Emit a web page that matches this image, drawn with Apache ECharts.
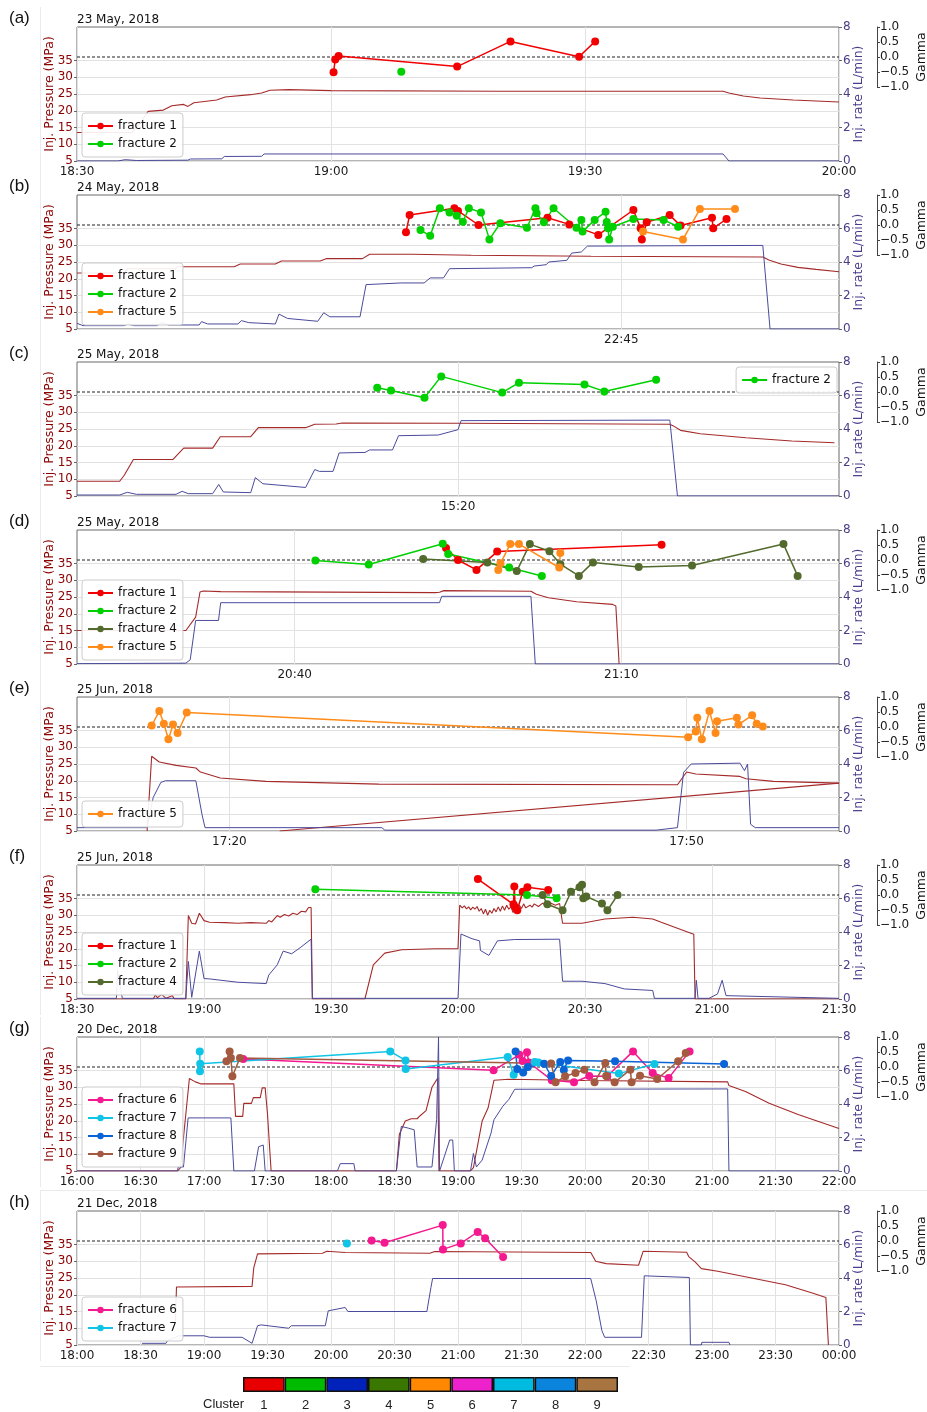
<!DOCTYPE html>
<html>
<head>
<meta charset="utf-8">
<script src="https://cdn.jsdelivr.net/npm/echarts@6/dist/echarts.min.js"></script>
<style>
  html, body { margin: 0; padding: 0; background: #fff; }
  #chart { width: 927px; height: 1412px; }
</style>
</head>
<body>
<div id="chart"></div>
<script>
// ---------- data: times as "HH:MM(.m)", pressure in MPa, rate in L/min, gamma unitless ----------

// (a) 23 May 2018
const aTicks = ['18:30', '19:00', '19:30', '20:00'];
const aPressure = [['18:30',13.5],['18:36.5',13.5],['18:37.5',16.5],['18:38.4',19.8],['18:40.2',20.2],['18:41.2',21.5],['18:42.6',21.9],['18:43.1',21.3],['18:43.8',22.4],['18:46.5',23.2],['18:47.5',24.1],['18:50.5',24.8],['18:51.8',25.3],['18:52.8',26.1],['18:55',26.3],['19:00',26.0],['19:20',25.8],['19:46.3',25.8],['19:47',25.3],['19:48.7',24.4],['19:50.7',23.8],['19:54.6',23.2],['20:00',22.6]];
const aRate = [['18:30',0],['18:34.8',0],['18:35.7',0.08],['18:37',0.03],['18:43.1',0.05],['18:43.4',0.12],['18:47.1',0.13],['18:47.4',0.27],['18:51.8',0.28],['18:52.1',0.42],['19:46.3',0.42],['19:47',0],['20:00',0]];
const aFrac1 = [['19:00.3',-0.51],['19:00.5',-0.08],['19:00.9',0.03],['19:14.9',-0.32],['19:21.2',0.52],['19:29.3',0.01],['19:31.2',0.52]];
const aFrac2 = [['19:08.3',-0.49]];

// (b) 24 May 2018
const bTicks = ['22:45'];
const bPressure = [['22:00',21.7],['22:03.9',21.7],['22:04.2',23.0],['22:08.1',23.0],['22:08.3',23.6],['22:13',23.6],['22:13.5',24.4],['22:16.4',24.4],['22:16.9',25.3],['22:20.1',25.3],['22:20.6',26.0],['22:23.6',26.0],['22:24.2',27.3],['22:27.7',27.3],['22:32.6',27.0],['22:42.5',26.7],['22:56.7',26.5],['22:57.2',25.6],['22:58.2',24.4],['22:59.6',23.4],['23:01.1',22.8],['23:03',22.1]];
const bRate = [['22:00',0.34],['22:00.5',0.2],['22:03.9',0.2],['22:04.2',0.3],['22:04.7',0.2],['22:06.6',0.2],['22:07',0.38],['22:07.6',0.24],['22:10.1',0.24],['22:10.3',0.44],['22:10.8',0.3],['22:13.3',0.3],['22:13.6',0.5],['22:14.2',0.38],['22:16.4',0.3],['22:16.7',0.89],['22:17.4',0.63],['22:19.9',0.46],['22:20.4',0.97],['22:20.9',0.73],['22:23.4',0.73],['22:23.9',2.65],['22:26.8',2.75],['22:28.7',2.75],['22:29.2',3.05],['22:30.3',3.05],['22:30.8',3.6],['22:37.6',3.66],['22:37.8',3.76],['22:38.8',3.84],['22:39',4.0],['22:40.5',4.1],['22:40.9',4.53],['22:41.7',4.6],['22:42.2',4.95],['22:56.7',4.99],['22:57.3',0],['23:03',0]];
const bFrac1 = [['22:27.2',-0.24],['22:27.5',0.33],['22:31.2',0.56],['22:31.5',0.47],['22:33.2',0.0],['22:38.9',0.24],['22:40.7',0.02],['22:43.1',-0.33],['22:46',0.5],['22:46.6',-0.11],['22:46.7',-0.48],['22:47.1',0.09],['22:49',0.33],['22:49.9',-0.02],['22:52.5',0.24],['22:52.6',-0.11],['22:53.7',0.2]];
const bFrac2 = [['22:28.4',-0.17],['22:29.2',-0.36],['22:30',0.56],['22:30.8',0.42],['22:31.4',0.31],['22:31.9',0.11],['22:32.4',0.56],['22:33.4',0.42],['22:34.1',-0.48],['22:35',0.06],['22:37.2',-0.09],['22:37.9',0.56],['22:38',0.39],['22:38.6',0.09],['22:39.4',0.56],['22:41.3',-0.09],['22:41.7',0.17],['22:41.8',-0.22],['22:42.8',0.17],['22:43.7',0.44],['22:43.8',0.1],['22:43.9',-0.11],['22:44',-0.48],['22:44.3',-0.06],['22:46',0.2],['22:48.5',0.17],['22:49.7',-0.06]];
const bFrac5 = [['22:46.8',-0.22],['22:50.1',-0.48],['22:51.5',0.53],['22:54.4',0.53]];

// (c) 25 May 2018
const cTicks = ['15:20'];
const cPressure = [['14:55',9.4],['14:57.8',9.4],['14:58.1',11.2],['14:58.7',15.9],['15:01.3',15.9],['15:02',19.3],['15:03.9',19.3],['15:04.4',22.7],['15:06.4',22.7],['15:06.9',25.4],['15:10',25.4],['15:10.6',26.4],['15:12',26.5],['15:12.4',26.8],['15:20',26.7],['15:33.9',26.4],['15:34.1',26.0],['15:34.6',24.6],['15:35.9',23.6],['15:38.9',22.4],['15:41.9',21.4],['15:44.7',20.9]];
const cRate = [['14:55',0.06],['14:57.8',0.06],['14:58.3',0.22],['14:58.9',0.1],['15:01.5',0.1],['15:01.9',0.28],['15:02.3',0.14],['15:03.9',0.14],['15:04.3',0.69],['15:04.6',0.24],['15:06.4',0.2],['15:06.7',1.1],['15:07.2',0.73],['15:10',0.51],['15:10.6',1.58],['15:10.9',1.47],['15:11.8',1.47],['15:12.2',2.57],['15:13.9',2.6],['15:14.2',2.75],['15:15.7',2.75],['15:16.1',3.6],['15:18.7',3.64],['15:20',3.96],['15:20.2',4.5],['15:33.9',4.53],['15:34.4',0],['15:45',0]];
const cFrac2 = [['15:14.7',0.14],['15:15.6',0.05],['15:17.8',-0.19],['15:18.9',0.52],['15:22.9',-0.02],['15:24',0.31],['15:28.3',0.25],['15:29.6',0.02],['15:33',0.41]];

// (d) 25 May 2018
const dTicks = ['20:40', '21:10'];
const dPressure = [['20:20',15.0],['20:30',15.0],['20:30.9',19],['20:31.3',26.5],['20:31.6',26.8],['20:33.2',26.6],['20:52.9',26.3],['20:53.3',26.4],['20:53.7',26.9],['21:01.7',26.7],['21:02.2',25.8],['21:03.3',24.8],['21:05.9',23.6],['21:09.2',22.8],['21:09.5',22.3],['21:09.8',5]];
const dRate = [['20:20',0.02],['20:30',0.05],['20:30.4',0.25],['20:30.9',2.6],['20:33',2.6],['20:33.2',3.66],['20:53.3',3.66],['20:53.5',4.04],['21:01.7',4.04],['21:02.1',0],['21:30',0]];
const dFrac1 = [['20:53.9',0.4],['20:55',0.0],['20:56.7',-0.33],['20:58.6',0.28],['21:13.7',0.51]];
const dFrac2 = [['20:41.9',-0.02],['20:46.8',-0.15],['20:53.6',0.54],['20:54.1',0.2],['20:59.7',-0.25],['21:02.7',-0.53]];
const dFrac4 = [['20:51.8',0.03],['20:57.7',-0.08],['21:00.4',-0.37],['21:01.6',0.53],['21:03.4',0.29],['21:04.4',-0.14],['21:06.1',-0.53],['21:07.4',-0.08],['21:11.6',-0.23],['21:16.5',-0.18],['21:24.9',0.53],['21:26.2',-0.53]];
const dFrac5 = [['20:58.7',-0.33],['20:58.9',-0.11],['20:59.8',0.53],['21:00.6',0.53],['21:04.3',-0.25],['21:04.4',0.23]];

// (e) 25 Jun 2018
const eTicks = ['17:20', '17:50'];
const ePressure = [['17:14.6',5],['17:14.9',27.3],['17:15.4',25.6],['17:16.5',24.6],['17:17.8',23.8],['17:18.1',22.6],['17:19.4',20.8],['17:22.4',19.8],['17:29.8',19.0],['17:49.4',18.8],['17:50',22.6],['17:50.6',22.0],['17:53.5',21.3],['17:53.9',20.6],['17:55.7',19.8],['18:00',19.3]];
const ePressureRamp = [['17:23.3',5],['18:00',19.3]];
const eRate = [['17:10',0.2],['17:14.6',0.2],['17:15',2.0],['17:15.5',2.9],['17:15.8',3.0],['17:17.8',3.0],['17:18.2',1.0],['17:18.4',0.2],['17:30',0.2],['17:30.2',0.05],['17:48',0.05],['17:49.4',0.2],['17:49.8',3.5],['17:50.3',4.0],['17:53.5',4.05],['17:53.8',3.6],['17:54',4.0],['17:54.2',0.4],['17:54.5',0.2],['18:00',0.2]];
const eFrac5 = [['17:14.9',0.05],['17:15.4',0.53],['17:15.7',0.11],['17:16',-0.41],['17:16.3',0.08],['17:16.6',-0.2],['17:17.2',0.48],['17:50.1',-0.34],['17:50.6',-0.15],['17:50.7',0.31],['17:51',-0.41],['17:51.5',0.53],['17:51.9',-0.2],['17:52',0.19],['17:53.3',0.31],['17:53.4',0.08],['17:54.3',0.39],['17:54.6',0.11],['17:55',0.02]];

// (f) 25 Jun 2018
const fTicks = ['18:30', '19:00', '19:30', '20:00', '20:30', '21:00', '21:30'];
const fPressure = [['18:30',5],['18:48',5],['18:48.5',6.2],['18:49',5.4],['18:50',6.4],['18:51',5.2],['18:52.5',6.0],['18:53',5],['18:55.7',5],['18:56.3',29.9],['18:57.1',27.6],['18:58',27.4],['18:58.9',30.6],['19:00',28.4],['19:01.3',27.9],['19:05',27.8],['19:08',27.6],['19:11',27.8],['19:14.7',27.6],['19:15.3',28.4],['19:16',28.0],['19:17.3',29.9],['19:18',29.4],['19:19',30.2],['19:20',29.8],['19:21',30.6],['19:22',30.2],['19:23',31.2],['19:24',31.0],['19:24.7',32.3],['19:25.3',32.3],['19:25.6',5],['19:38',5],['19:40',15.2],['19:42.7',18.7],['19:46.7',19.7],['19:54.7',20.0],['20:00',20.0],['20:00.4',33.0],['20:01',32.2],['20:01.5',32.8],['20:02',31.9],['20:02.5',32.5],['20:03',31.6],['20:03.5',32.4],['20:04',31.8],['20:04.5',32.6],['20:05',31.2],['20:05.5',32.0],['20:06',30.4],['20:06.5',31.8],['20:07',30.0],['20:07.5',31.5],['20:08',30.6],['20:08.5',32.0],['20:09',31.0],['20:09.5',32.5],['20:10',31.2],['20:10.5',32.8],['20:11',31.5],['20:11.5',33.0],['20:12',31.8],['20:12.5',32.6],['20:13',30.8],['20:13.5',33.2],['20:14',31.6],['20:14.5',33.0],['20:15',32.0],['20:15.5',33.4],['20:16',32.2],['20:17',33.0],['20:17.5',32.4],['20:18',33.4],['20:19',32.6],['20:20',33.6],['20:21',32.8],['20:22',33.6],['20:23',33.0],['20:24',33.5],['20:24.7',27.6],['20:29.3',27.6],['20:34.7',28.9],['20:41.3',29.4],['20:46',28.9],['20:48',27.9],['20:54.7',24.8],['20:55.7',24.3],['20:56',5],['21:30',5]];
const fRate = [['18:30',0.04],['18:39.3',0.04],['18:39.6',1.7],['18:40.7',0.04],['18:55.7',0.04],['18:56.3',2.24],['18:57.1',0.1],['18:58.9',2.86],['19:00',1.22],['19:01.3',1.2],['19:08',1.0],['19:14.7',0.92],['19:15.3',1.43],['19:17.3',2.04],['19:18.7',2.86],['19:20.7',2.7],['19:22.7',3.06],['19:25.3',3.57],['19:25.6',0.04],['20:00',0.04],['20:00.7',3.88],['20:03.3',3.6],['20:05.1',3.47],['20:05.3',2.9],['20:07.3',2.6],['20:09.3',3.47],['20:13.3',3.55],['20:24',3.57],['20:24.7',1.06],['20:29.3',1.06],['20:34.7',0.92],['20:39.3',0.6],['20:46',0.51],['20:46.4',0.04],['20:56',0.04],['20:56.3',1.12],['20:56.7',0.04],['20:59.3',0.04],['21:01.3',0.3],['21:02.4',1.12],['21:03.3',0.2],['21:30',0.04]];
const fFrac1 = [['20:04.7',0.53],['20:13.1',-0.31],['20:13.3',0.28],['20:13.5',-0.4],['20:14',-0.51],['20:15.3',0.11],['20:16.4',0.26],['20:21.3',0.17]];
const fFrac2 = [['19:26.3',0.19],['20:16.3',0.0],['20:23.3',-0.11]];
const fFrac4 = [['20:20',0.0],['20:21.1',-0.31],['20:24.7',-0.51],['20:26.7',0.11],['20:28.7',0.26],['20:29.3',0.34],['20:29.6',-0.11],['20:30.3',-0.05],['20:34',-0.28],['20:35.3',-0.51],['20:37.7',0.0]];

// (g) 20 Dec 2018
const gTicks = ['16:00','16:30','17:00','17:30','18:00','18:30','19:00','19:30','20:00','20:30','21:00','21:30','22:00'];
const gPressure = [['16:00',5],['16:47.5',5],['16:48.9',6],['16:51.7',23.8],['16:53.1',32.6],['16:55.9',31.6],['16:58.7',31.0],['17:14.1',31.0],['17:14.9',21.3],['17:18.3',21.3],['17:18.8',25.2],['17:22.4',25.2],['17:23.3',26.9],['17:26.6',26.9],['17:27.5',29.8],['17:28.9',29.8],['17:30',22],['17:31.7',5],['18:30.9',5],['18:32.3',16],['18:35.1',19.9],['18:37.9',20.6],['18:40.7',20.6],['18:42.1',21.5],['18:44.9',23],['18:47.7',30],['18:50.5',32.8],['18:51',5],['19:05.9',5],['19:07.3',6],['19:11.4',19.9],['19:14.2',23.8],['19:17',32.1],['19:24',32.4],['20:00',32.0],['21:07.4',31.6],['21:08',30.5],['21:15.8',28.7],['21:27',25.2],['21:41',21.8],['22:00',17.7]];
const gRate = [['16:00',0],['16:47.5',0],['16:47.8',0.24],['16:50.3',0.24],['16:52.5',3.17],['17:12.7',3.17],['17:14.1',0],['17:23.8',0],['17:25.8',1.45],['17:28',1.55],['17:28.9',0],['18:03',0],['18:04.4',0.44],['18:10.8',0.44],['18:11.4',0],['18:30.9',0],['18:33.2',2.66],['18:36.5',2.56],['18:39.3',2.46],['18:40.7',0.24],['18:47.7',0.24],['18:49.9',3.06],['18:50.8',8],['18:51.3',0],['18:56.1',1.85],['18:57.5',1.85],['18:58.3',0],['19:05.9',0],['19:07.3',1.05],['19:08.7',0.24],['19:11.4',0.65],['19:15.6',2.26],['19:17',3.06],['19:21.2',3.87],['19:24',4.27],['19:26.8',4.88],['21:07.4',4.9],['21:08',0],['22:00',0]];
const gFrac6 = [['17:18.5',0.27],['19:16.8',-0.11],['19:29',0.41],['19:30.5',0.2],['19:32.6',0.49],['19:33.5',0.15],['19:44.3',-0.44],['19:54.8',-0.51],['20:02',-0.3],['20:10.5',-0.31],['20:22.7',0.52],['20:32',-0.2],['20:39.5',-0.37],['20:49.4',0.52]];
const gFrac7 = [['16:58',0.52],['16:58.1',-0.14],['16:58.2',0.11],['18:28',0.52],['18:35.2',0.22],['18:35.3',-0.07],['19:23.5',0.33],['19:26.3',-0.26],['19:36.2',0.17],['19:38',0.15],['20:16',-0.22],['20:32.8',0.1]];
const gFrac8 = [['19:27.2',0.52],['19:28',-0.07],['19:30.8',-0.18],['19:33',0.0],['19:40.7',0.11],['19:44',-0.3],['19:48.3',0.17],['19:50',-0.1],['19:52',0.22],['20:14.2',0.19],['21:05.7',0.1]];
const gFrac9 = [['17:10.6',0.19],['17:12.1',0.52],['17:12.7',0.3],['17:13.4',-0.31],['17:17',0.3],['19:44',0.12],['19:46.1',-0.51],['19:50.6',-0.31],['19:55.5',-0.2],['19:59.7',-0.09],['20:04.5',-0.51],['20:09.6',0.13],['20:10',-0.3],['20:14',-0.51],['20:21.4',-0.09],['20:22',-0.51],['20:26',-0.29],['20:34.1',-0.4],['20:44',0.19],['20:47.6',0.47]];

// (h) 21 Dec 2018
const hTicks = ['18:00','18:30','19:00','19:30','20:00','20:30','21:00','21:30','22:00','22:30','23:00','23:30','00:00'];
const hPressure = [['18:46.5',12],['18:47',22.3],['19:22.7',22.5],['19:23.5',28],['19:25.3',32.2],['19:56',32.4],['19:58',33.0],['20:06.7',32.6],['20:46.7',32.4],['20:49',32.9],['22:02.7',32.6],['22:04',31.2],['22:05',30.0],['22:10',29.3],['22:25.3',28.8],['22:27.5',33.0],['22:48',32.7],['22:49',31.4],['22:52',29.8],['22:55',27.8],['23:02.7',27.0],['23:18.7',25.0],['23:34.7',23.0],['23:47',20.6],['23:53.8',19.2],['23:55',5]];
const hRate = [['18:30.7',0.1],['18:42',0.1],['18:43',0.3],['18:46.7',0.46],['18:48',0.55],['19:00',0.55],['19:02.7',0.46],['19:18',0.46],['19:22.7',0.1],['19:25.3',1.15],['19:27',1.2],['19:40',1.0],['19:41.3',1.15],['19:57.3',1.15],['19:58.7',2.04],['20:06.7',2.24],['20:08',2.0],['20:45.3',2.0],['20:47.2',3.43],['20:48',3.97],['22:02.7',3.97],['22:05.3',2.64],['22:08',0.85],['22:09.3',0.46],['22:26.7',0.46],['22:28',4.13],['22:49.3',4.03],['22:49.8',0],['22:55',0],['22:55.2',0.16],['23:08',0.16],['23:08.5',0]];
const hFrac6 = [['20:19.2',0.02],['20:25.3',-0.06],['20:52.8',0.53],['20:52.9',-0.28],['21:01.3',-0.08],['21:09.3',0.3],['21:12.8',0.09],['21:21.3',-0.53]];
const hFrac7 = [['20:07.5',-0.08]];

// shared axis ticks
const pressureTicks = [5, 10, 15, 20, 25, 30, 35];
const rateTicks = [0, 2, 4, 6, 8];
const gammaTicks = [-1, -0.5, 0, 0.5, 1];

// colour for each fracture cluster
const clusterIds = ['1', '2', '3', '4', '5', '6', '7', '8', '9'];
const clusterColors = ['#e80000', '#00bb00', '#0022bb', '#3a7700', '#ff8800', '#ee22cc', '#00bbe0', '#0a84dd', '#a87440'];
const fractureColors = {
  'fracture 1': '#f20000', 'fracture 2': '#00d000', 'fracture 4': '#526b2d', 'fracture 5': '#ff8c1a',
  'fracture 6': '#f5198f', 'fracture 7': '#10c4e6', 'fracture 8': '#0a64d6', 'fracture 9': '#a35a40'
};

// ---------- layout ----------
const panels = [
  { letter: '(a)', date: '23 May, 2018', range: ['18:30', '20:00'], ticks: aTicks, pressure: [aPressure], rate: aRate, fr: [['fracture 1', aFrac1], ['fracture 2', aFrac2]] },
  { letter: '(b)', date: '24 May, 2018', range: ['22:00', '23:03'], ticks: bTicks, pressure: [bPressure], rate: bRate, fr: [['fracture 1', bFrac1], ['fracture 2', bFrac2], ['fracture 5', bFrac5]] },
  { letter: '(c)', date: '25 May, 2018', range: ['14:55', '15:45'], ticks: cTicks, pressure: [cPressure], rate: cRate, fr: [['fracture 2', cFrac2]], legendTopRight: true },
  { letter: '(d)', date: '25 May, 2018', range: ['20:20', '21:30'], ticks: dTicks, pressure: [dPressure], rate: dRate, fr: [['fracture 1', dFrac1], ['fracture 2', dFrac2], ['fracture 4', dFrac4], ['fracture 5', dFrac5]] },
  { letter: '(e)', date: '25 Jun, 2018', range: ['17:10', '18:00'], ticks: eTicks, pressure: [ePressure, ePressureRamp], rate: eRate, fr: [['fracture 5', eFrac5]] },
  { letter: '(f)', date: '25 Jun, 2018', range: ['18:30', '21:30'], ticks: fTicks, pressure: [fPressure], rate: fRate, fr: [['fracture 1', fFrac1], ['fracture 2', fFrac2], ['fracture 4', fFrac4]] },
  { letter: '(g)', date: '20 Dec, 2018', range: ['16:00', '22:00'], ticks: gTicks, pressure: [gPressure], rate: gRate, fr: [['fracture 6', gFrac6], ['fracture 7', gFrac7], ['fracture 8', gFrac8], ['fracture 9', gFrac9]] },
  { letter: '(h)', date: '21 Dec, 2018', range: ['18:00', '00:00'], ticks: hTicks, pressure: [hPressure], rate: hRate, fr: [['fracture 6', hFrac6], ['fracture 7', hFrac7]] }
];
const PANEL_TOP = [27, 195, 362, 530, 697, 865, 1037, 1211];
const PLOT_LEFT = 77, PLOT_RIGHT = 88, PLOT_H = 134, GAMMA_H = 60;
const FONT = "'DejaVu Sans', sans-serif";
const PRESSURE_COLOR = '#8b0000', RATE_COLOR = '#483d8b';

function toMin(s) {
  const parts = s.split(':');
  return Number(parts[0]) * 60 + parseFloat(parts[1]);
}
function fmtTime(v) {
  const m = Math.round(v);
  const h = Math.floor(m / 60) % 24, mm = m % 60;
  return String(h).padStart(2, '0') + ':' + String(mm).padStart(2, '0');
}
function fmtGamma(v) {
  return (v < 0 ? '\u2212' : '') + Math.abs(v).toFixed(1);
}

const grid = [], xAxis = [], yAxis = [], series = [], legend = [], title = [], graphic = [];

panels.forEach((p, i) => {
  const top = PANEL_TOP[i];
  const xmin = toMin(p.range[0]);
  let xmax = toMin(p.range[1]);
  if (xmax <= xmin) xmax += 1440;
  const wrap = (s) => { let m = toMin(s); if (m < xmin - 1) m += 1440; return m; };
  const ticks = p.ticks.map(wrap);
  const gx = 2 * i, gy = 3 * i;

  grid.push({ left: PLOT_LEFT, right: PLOT_RIGHT, top: top, height: PLOT_H, show: true, borderColor: '#6a6a6a', borderWidth: 1,
    containLabel: false, outerBoundsMode: 'none' });
  grid.push({ left: PLOT_LEFT, right: PLOT_RIGHT, top: top, height: GAMMA_H, show: false,
    containLabel: false, outerBoundsMode: 'none' });

  xAxis.push({
    gridIndex: gx, type: 'value', min: xmin, max: xmax,
    axisLine: { show: false },
    axisTick: { show: false, customValues: ticks },
    axisLabel: { customValues: ticks, formatter: fmtTime, color: '#1a1a1a', fontSize: 12, margin: 5, fontFamily: FONT },
    splitLine: { show: true, lineStyle: { color: '#e2e2e2', width: 1 } }
  });
  xAxis.push({ gridIndex: gx + 1, type: 'value', min: xmin, max: xmax, show: false });

  yAxis.push({
    gridIndex: gx, type: 'value', min: 5, max: 45, position: 'left',
    name: 'Inj. Pressure (MPa)', nameLocation: 'middle', nameGap: 21, nameRotate: 90, nameMoveOverlap: false,
    nameTextStyle: { color: PRESSURE_COLOR, fontSize: 12.5, fontFamily: FONT },
    axisLine: { show: false },
    axisTick: { show: true, length: 3, customValues: pressureTicks, lineStyle: { color: '#666' } },
    axisLabel: { customValues: pressureTicks, color: PRESSURE_COLOR, fontSize: 12, margin: 4, fontFamily: FONT },
    splitLine: { show: true, lineStyle: { color: '#e2e2e2', width: 1 } }
  });
  yAxis.push({
    gridIndex: gx, type: 'value', min: 0, max: 8, position: 'right',
    name: 'Inj. rate (L/min)', nameLocation: 'middle', nameGap: 13, nameRotate: 90, nameMoveOverlap: false,
    nameTextStyle: { color: RATE_COLOR, fontSize: 12.5, fontFamily: FONT },
    axisLine: { show: false },
    axisTick: { show: true, length: 3, customValues: rateTicks, lineStyle: { color: '#666' } },
    axisLabel: { customValues: rateTicks, color: RATE_COLOR, fontSize: 12, margin: 4, fontFamily: FONT },
    splitLine: { show: false }
  });
  yAxis.push({
    gridIndex: gx + 1, type: 'value', min: -1, max: 1, position: 'right', offset: 38,
    name: 'Gamma', nameLocation: 'middle', nameGap: 38, nameRotate: 90, nameMoveOverlap: false,
    nameTextStyle: { color: '#111', fontSize: 12.5, fontFamily: FONT },
    axisLine: { show: true, lineStyle: { color: '#444', width: 1 } },
    axisTick: { show: true, length: 3, customValues: gammaTicks, lineStyle: { color: '#444' } },
    axisLabel: { customValues: gammaTicks, formatter: fmtGamma, color: '#1a1a1a', fontSize: 12, margin: 3, fontFamily: FONT },
    splitLine: { show: false }
  });

  // injection pressure
  p.pressure.forEach((arr, k) => {
    series.push({
      type: 'line', name: 'pressure ' + i + '-' + k, xAxisIndex: gx, yAxisIndex: gy, z: 2,
      data: arr.map(d => [wrap(d[0]), d[1]]), showSymbol: false, silent: true,
      lineStyle: { color: '#a52a2a', width: 1.1 }
    });
  });
  // injection rate
  series.push({
    type: 'line', name: 'rate ' + i, xAxisIndex: gx, yAxisIndex: gy + 1, z: 2,
    data: p.rate.map(d => [wrap(d[0]), d[1]]), showSymbol: false, silent: true,
    lineStyle: { color: '#4a4a9c', width: 1 }
  });
  // gamma = 0 reference
  series.push({
    type: 'line', name: 'gamma zero ' + i, xAxisIndex: gx + 1, yAxisIndex: gy + 2, z: 3,
    data: [[xmin, 0], [xmax, 0]], showSymbol: false, silent: true,
    lineStyle: { color: '#222', width: 1.2, type: [3, 2] }
  });
  // fracture gamma series
  p.fr.forEach(([name, arr]) => {
    const col = fractureColors[name];
    series.push({
      type: 'line', name: name, xAxisIndex: gx + 1, yAxisIndex: gy + 2, z: 5,
      data: arr.map(d => [wrap(d[0]), d[1]]),
      symbol: 'circle', symbolSize: 8, showSymbol: true, clip: false,
      itemStyle: { color: col }, lineStyle: { color: col, width: 1.5 }
    });
  });

  const n = p.fr.length;
  const lg = {
    data: p.fr.map(f => f[0]), orient: 'vertical', itemWidth: 25, itemHeight: 8, itemGap: 4,
    padding: [6, 6, 6, 5], backgroundColor: 'rgba(255,255,255,0.9)', borderColor: '#cccccc', borderWidth: 1, borderRadius: 3,
    textStyle: { fontSize: 12, color: '#111', fontFamily: FONT, lineHeight: 14 }, selectedMode: false
  };
  if (p.legendTopRight) { lg.right = 927 - 837; lg.top = top + 5; }
  else { lg.left = 82; lg.top = top + 122 - 18 * n; }
  legend.push(lg);

  title.push({ text: p.date, left: PLOT_LEFT, top: top - 13, padding: 0,
    textStyle: { fontSize: 12, fontWeight: 'normal', color: '#111', fontFamily: FONT } });
  graphic.push({ type: 'text', left: 9, top: top - 17,
    style: { text: p.letter, fontSize: 17, fill: '#111', fontFamily: "'Liberation Sans', Arial, sans-serif" } });
  graphic.push({ type: 'line', shape: { x1: 40.5, y1: top - 20, x2: 40.5, y2: top + 150 },
    style: { stroke: '#ebebeb', lineWidth: 1 }, silent: true });
});

// faint frame lines around the last panel
graphic.push({ type: 'line', shape: { x1: 40, y1: 1190.5, x2: 927, y2: 1190.5 }, style: { stroke: '#ebebeb', lineWidth: 1 }, silent: true });
graphic.push({ type: 'line', shape: { x1: 40, y1: 1366.5, x2: 630, y2: 1366.5 }, style: { stroke: '#ebebeb', lineWidth: 1 }, silent: true });

// cluster colour bar
const cbIndex = panels.length * 2;
grid.push({ left: 243, top: 1377, width: 375, height: 15, show: false, containLabel: false, outerBoundsMode: 'none' });
xAxis.push({
  gridIndex: cbIndex, type: 'category', data: clusterIds,
  axisLine: { show: false }, axisTick: { show: false },
  axisLabel: { color: '#222', fontSize: 13, margin: 7, fontFamily: "'Liberation Sans', Arial, sans-serif" },
  splitLine: { show: false }
});
yAxis.push({ gridIndex: cbIndex, type: 'value', min: 0, max: 1, show: false });
series.push({
  type: 'bar', name: 'cluster', xAxisIndex: panels.length * 2, yAxisIndex: panels.length * 3,
  barWidth: '100%', silent: true,
  data: clusterColors.map(c => ({ value: 1, itemStyle: { color: c, borderColor: '#111', borderWidth: 1.5 } }))
});
graphic.push({ type: 'text', left: 203, top: 1398,
  style: { text: 'Cluster', fontSize: 13, fill: '#222', fontFamily: "'Liberation Sans', Arial, sans-serif" } });

const chart = echarts.init(document.getElementById('chart'), null, { renderer: 'canvas', width: 927, height: 1412 });
chart.setOption({
  animation: false,
  backgroundColor: '#ffffff',
  textStyle: { fontFamily: FONT },
  title: title,
  legend: legend,
  grid: grid,
  xAxis: xAxis,
  yAxis: yAxis,
  series: series,
  graphic: graphic
});
</script>
</body>
</html>
